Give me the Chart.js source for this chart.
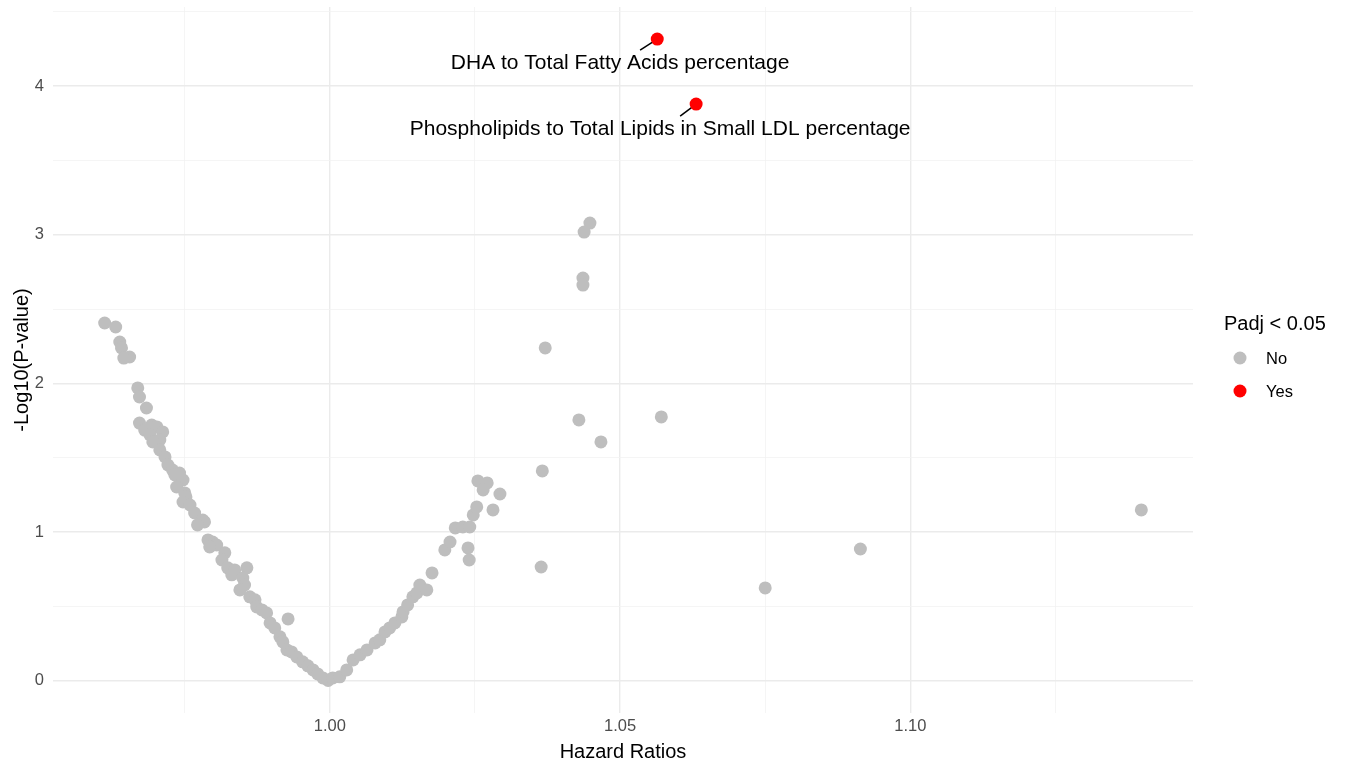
<!DOCTYPE html>
<html>
<head>
<meta charset="utf-8">
<script src="https://cdn.jsdelivr.net/npm/chart.js@4.4.1/dist/chart.umd.min.js"></script>
<style>
  body { margin: 0; background: #fff; }
  #wrap { width: 1348px; height: 764px; }
</style>
</head>
<body>
<div id="wrap"><canvas id="volcano" width="1348" height="764"></canvas></div>
<script>
// hazard ratios / -log10(p) for the non-significant metabolites
let hrNo = [
  0.9612, 0.9631, 0.9638, 0.9641, 0.9655, 0.9645, 0.9669, 0.9672, 0.9684, 0.9672,
  0.9693, 0.9702, 0.9712, 0.9681, 0.9690, 0.9707, 0.9695, 0.9707, 0.9716, 0.9721,
  0.9729, 0.9741, 0.9733, 0.9747, 0.9736, 0.9750, 0.9752, 0.9747, 0.9759, 0.9767,
  0.9781, 0.9784, 0.9772, 0.9790, 0.9798, 0.9805, 0.9793, 0.9819, 0.9814, 0.9824,
  0.9836, 0.9857, 0.9831, 0.9850, 0.9853, 0.9845, 0.9862, 0.9871, 0.9874, 0.9883,
  0.9891, 0.9897, 0.9905, 0.9914, 0.9919, 0.9926, 0.9934, 0.9943, 0.9953, 0.9962,
  0.9971, 0.9979, 0.9988, 0.9997, 0.9928,
  1.0005, 1.0017, 1.0029, 1.0040, 1.0052, 1.0064, 1.0078, 1.0086, 1.0095, 1.0103,
  1.0112, 1.0124, 1.0126, 1.0134, 1.0143, 1.0150, 1.0155, 1.0167, 1.0176, 1.0198,
  1.0207, 1.0216, 1.0229, 1.0241, 1.0238, 1.0240, 1.0247, 1.0253, 1.0281, 1.0293,
  1.0255, 1.0271, 1.0264,
  1.0448, 1.0438, 1.0436, 1.0436, 1.0371, 1.0429, 1.0467, 1.0571, 1.0366, 1.0364,
  1.0750, 1.0914, 1.1398
];
let logpNo = [
  2.407, 2.380, 2.279, 2.239, 2.178, 2.171, 1.970, 1.909, 1.835, 1.734,
  1.721, 1.708, 1.674, 1.687, 1.654, 1.620, 1.607, 1.553, 1.506, 1.452,
  1.418, 1.398, 1.385, 1.351, 1.304, 1.264, 1.237, 1.203, 1.183, 1.129,
  1.082, 1.069, 1.049, 0.948, 0.934, 0.914, 0.901, 0.861, 0.813, 0.760,
  0.746, 0.760, 0.713, 0.692, 0.645, 0.612, 0.565, 0.545, 0.497, 0.477,
  0.457, 0.390, 0.356, 0.296, 0.262, 0.208, 0.195, 0.161, 0.128, 0.101,
  0.074, 0.047, 0.020, 0.003, 0.417,
  0.020, 0.027, 0.074, 0.141, 0.175, 0.208, 0.255, 0.276, 0.329, 0.356,
  0.390, 0.430, 0.464, 0.511, 0.565, 0.592, 0.645, 0.612, 0.726, 0.881,
  0.934, 1.029, 1.035, 1.035, 0.894, 0.813, 1.116, 1.170, 1.150, 1.257,
  1.345, 1.331, 1.284,
  3.079, 3.018, 2.709, 2.662, 2.239, 1.755, 1.607, 1.775, 1.412, 0.766,
  0.625, 0.887, 1.150
];

// significant ones (Padj < 0.05)
let hrYes = [1.0564, 1.0631];
let logpYes = [4.316, 3.879];
let yesNames = ["DHA to Total Fatty Acids percentage", "Phospholipids to Total Lipids in Small LDL percentage"];
let labelHr = [1.0500, 1.0569];    // where the repelled labels sit
let labelLogp = [4.155, 3.711];

let xTicks = [1.00, 1.05, 1.10];
let xGrid = [0.975, 1.00, 1.025, 1.05, 1.075, 1.10, 1.125];
let yTicks = [0, 1, 2, 3, 4];
let yGrid = [0, 0.5, 1, 1.5, 2, 2.5, 3, 3.5, 4, 4.5];

const FONT = "'Liberation Sans', Arial, sans-serif";

function toPoints(xs, ys) {
    return xs.map((x, i) => ({ x: x, y: ys[i] }));
}

function isMajor(v, list) {
    return list.some(t => Math.abs(t - v) < 1e-6);
}

// labels + their little connector segments
const labelPlugin = {
    id: "labels",
    beforeDatasetsDraw(chart) {
        let ctx = chart.ctx;
        let xs = chart.scales.x, ys = chart.scales.y;
        ctx.save();
        ctx.strokeStyle = "#000";
        ctx.lineWidth = 1.5;
        for (let i = 0; i < hrYes.length; i++) {
            let px = xs.getPixelForValue(hrYes[i]);
            let py = ys.getPixelForValue(logpYes[i]);
            let lx = xs.getPixelForValue(labelHr[i]) + 20;
            let ly = ys.getPixelForValue(labelLogp[i]) - 13;
            ctx.beginPath();
            ctx.moveTo(lx, ly);
            ctx.lineTo(px, py);
            ctx.stroke();
        }
        ctx.restore();
    },
    afterDatasetsDraw(chart) {
        let ctx = chart.ctx;
        let xs = chart.scales.x, ys = chart.scales.y;
        ctx.save();
        ctx.fillStyle = "#000";
        ctx.font = "21px " + FONT;
        ctx.textAlign = "center";
        ctx.textBaseline = "middle";
        for (let i = 0; i < yesNames.length; i++) {
            ctx.fillText(yesNames[i], xs.getPixelForValue(labelHr[i]), ys.getPixelForValue(labelLogp[i]));
        }

        // legend, ggplot style
        ctx.textAlign = "left";
        ctx.font = "20px " + FONT;
        ctx.fillText("Padj < 0.05", 1224, 324);
        ctx.font = "16.5px " + FONT;
        ctx.fillStyle = "#bebebe";
        ctx.beginPath(); ctx.arc(1240, 358, 6.5, 0, Math.PI * 2); ctx.fill();
        ctx.fillStyle = "#ff0000";
        ctx.beginPath(); ctx.arc(1240, 391, 6.5, 0, Math.PI * 2); ctx.fill();
        ctx.fillStyle = "#000";
        ctx.fillText("No", 1266, 359);
        ctx.fillText("Yes", 1266, 392);
        ctx.restore();
    }
};

let ctx = document.getElementById("volcano").getContext("2d");
new Chart(ctx, {
    type: "scatter",
    data: {
        datasets: [{
            label: "No",
            data: toPoints(hrNo, logpNo),
            backgroundColor: "#bebebe",
            borderWidth: 0,
            pointRadius: 6.5,
            pointHoverRadius: 6.5
        }, {
            label: "Yes",
            data: toPoints(hrYes, logpYes),
            backgroundColor: "#ff0000",
            borderWidth: 0,
            pointRadius: 6.5,
            pointHoverRadius: 6.5
        }]
    },
    options: {
        responsive: false,
        animation: false,
        devicePixelRatio: 1,
        layout: { padding: { left: 0, right: 155, top: 7, bottom: 0 } },
        plugins: {
            legend: { display: false },
            tooltip: { enabled: false }
        },
        scales: {
            x: {
                type: "linear",
                min: 0.9523,
                max: 1.1487,
                afterBuildTicks: s => { s.ticks = xGrid.map(v => ({ value: v })); },
                afterFit: s => { s.height = 51; s.paddingLeft = 0; s.paddingRight = 0; },
                border: { display: false },
                grid: {
                    drawTicks: false,
                    color: c => isMajor(c.tick.value, xTicks) ? "#ebebeb" : "#f3f3f3",
                    lineWidth: c => isMajor(c.tick.value, xTicks) ? 1.4 : 0.8
                },
                ticks: {
                    autoSkip: false,
                    maxRotation: 0,
                    padding: 4,
                    color: "#4d4d4d",
                    font: { family: FONT, size: 16.5 },
                    callback: v => isMajor(v, xTicks) ? v.toFixed(2) : ""
                },
                title: {
                    display: true,
                    text: "Hazard Ratios",
                    color: "#000",
                    font: { family: FONT, size: 20 },
                    padding: { top: 0, bottom: 0 }
                }
            },
            y: {
                type: "linear",
                min: -0.216,
                max: 4.532,
                afterBuildTicks: s => { s.ticks = yGrid.map(v => ({ value: v })); },
                afterFit: s => { s.width = 53; s.paddingTop = 0; s.paddingBottom = 0; },
                border: { display: false },
                grid: {
                    drawTicks: false,
                    color: c => isMajor(c.tick.value, yTicks) ? "#ebebeb" : "#f3f3f3",
                    lineWidth: c => isMajor(c.tick.value, yTicks) ? 1.4 : 0.8
                },
                ticks: {
                    padding: 9,
                    color: "#4d4d4d",
                    font: { family: FONT, size: 16.5 },
                    callback: v => isMajor(v, yTicks) ? String(v) : ""
                },
                title: {
                    display: true,
                    text: "-Log10(P-value)",
                    color: "#000",
                    font: { family: FONT, size: 20 },
                    padding: { top: 10, bottom: 4 }
                }
            }
        }
    },
    plugins: [labelPlugin]
});
</script>
</body>
</html>
